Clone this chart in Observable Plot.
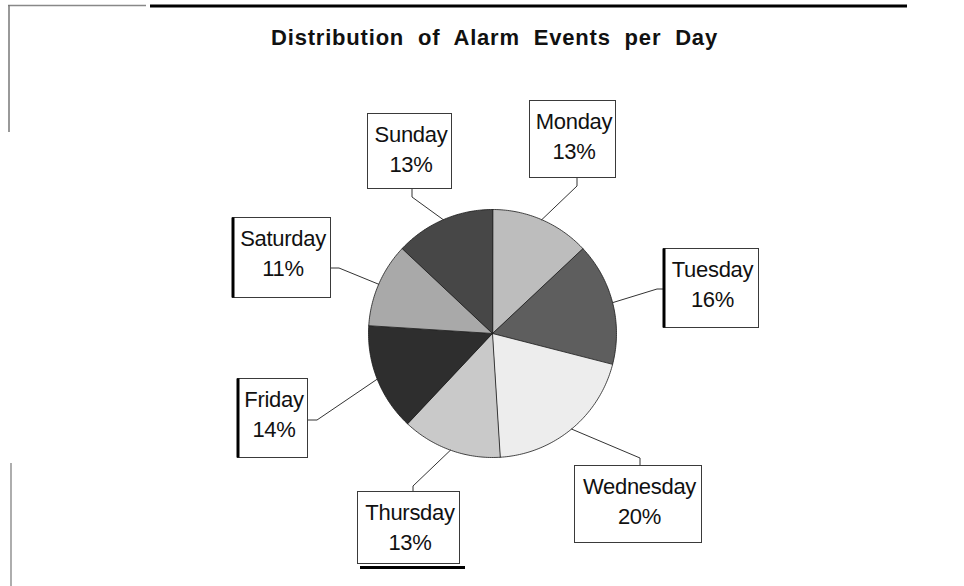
<!DOCTYPE html>
<html>
<head>
<meta charset="utf-8">
<script src="https://cdn.jsdelivr.net/npm/d3@7"></script>
<script src="https://cdn.jsdelivr.net/npm/@observablehq/plot@0.6"></script>
<style>
  html, body { margin: 0; padding: 0; background: #fff; }
</style>
</head>
<body>
<div id="chart"></div>
<script>
// ---- data ----
const title = "Distribution of Alarm Events per Day";
const days = ["Monday", "Tuesday", "Wednesday", "Thursday", "Friday", "Saturday", "Sunday"];
const shares = [13, 16, 20, 13, 14, 11, 13];

// ---- styles ----
const sliceFills = ["#bdbdbd", "#5e5e5e", "#ededed", "#c9c9c9", "#2e2e2e", "#a9a9a9", "#474747"];

// ---- layout (pixel space) ----
const pieCenter = [492, 333];
const pieRadius = 124;
// label boxes: x1, x2, y1, y2; anchor point on box and elbow point of the leader
const boxX1 = [529.5, 663.5, 574.5, 357.5, 237.5, 232.5, 367.5];
const boxX2 = [615.5, 758.5, 701.5, 459.5, 307.5, 330.5, 451.5];
const boxY1 = [100.5, 248.5, 465.5, 491.5, 378.5, 217.5, 113.5];
const boxY2 = [177.5, 327.5, 542.5, 563.5, 457.5, 297.5, 188.5];
const anchorX = [576.5, 663.5, 639.5, 412.5, 307.5, 330.5, 411.5];
const anchorY = [177.5, 288.5, 465.5, 491.5, 419.5, 267.5, 188.5];
const elbowX = [576.5, 656.5, 639.5, 412.5, 316.5, 338.5, 411.5];
const elbowY = [185.5, 288.5, 457.5, 485.5, 419.5, 267.5, 196.5];

// ---- build derived tables ----
const total = d3.sum(shares);
const toRad = Math.PI / 180;
const slices = [];
const leaders = [];
const labels = [];
let start = 0;
days.forEach((day, i) => {
  const sweep = shares[i] / total * 360;
  const end = start + sweep;
  const pts = [{day, x: pieCenter[0], y: pieCenter[1], fill: sliceFills[i]}];
  const n = Math.max(2, Math.ceil(sweep));
  for (let k = 0; k <= n; k++) {
    const a = (start + sweep * k / n) * toRad;
    pts.push({day, x: pieCenter[0] + pieRadius * Math.sin(a), y: pieCenter[1] - pieRadius * Math.cos(a), fill: sliceFills[i]});
  }
  slices.push(...pts);
  const mid = (start + sweep / 2) * toRad;
  leaders.push(
    {day, x: pieCenter[0] + pieRadius * Math.sin(mid), y: pieCenter[1] - pieRadius * Math.cos(mid)},
    {day, x: elbowX[i], y: elbowY[i]},
    {day, x: anchorX[i], y: anchorY[i]}
  );
  labels.push({
    day, pct: shares[i] + "%",
    x1: boxX1[i], x2: boxX2[i], y1: boxY1[i], y2: boxY2[i],
    cx: (boxX1[i] + boxX2[i]) / 2 + 1
  });
  start = end;
});

// scan artefacts of the original page (thick box edges and page frame)
const thickLeft = labels.filter(d => ["Saturday", "Tuesday", "Friday"].includes(d.day));
const thickUnder = [{x1: 360, x2: 465, y: 567}];

const chart = Plot.plot({
  width: 964,
  height: 586,
  margin: 0,
  x: {domain: [0, 964], range: [0, 964], axis: null},
  y: {domain: [0, 586], range: [0, 586], axis: null},
  color: {type: "identity"},
  style: {fontFamily: "'Liberation Sans', Arial, sans-serif", background: "#fff", color: "#111"},
  marks: [
    // page frame
    Plot.ruleY([5], {x1: 8, x2: 146, stroke: "#888", strokeWidth: 1.5}),
    Plot.ruleY([5.5], {x1: 150, x2: 907, stroke: "#000", strokeWidth: 3}),
    Plot.ruleX([8.5], {y1: 5, y2: 132, stroke: "#777", strokeWidth: 1.5}),
    Plot.ruleX([10.5], {y1: 463, y2: 586, stroke: "#777", strokeWidth: 1.2}),
    // title
    Plot.text([title], {
      x: 494, y: 44, text: d => d, fontSize: 22, fontWeight: "bold",
      textAnchor: "middle", lineAnchor: "bottom", fill: "#111",
      className: "chart-title"
    }),
    // pie slices
    Plot.line(slices, {x: "x", y: "y", z: "day", fill: "fill", stroke: "#1a1a1a", strokeWidth: 0.8, curve: "linear-closed"}),
    // leader lines
    Plot.line(leaders, {x: "x", y: "y", z: "day", stroke: "#333", strokeWidth: 1}),
    // label boxes
    Plot.rect(labels, {x1: "x1", x2: "x2", y1: "y1", y2: "y2", fill: "#fff", stroke: "#3a3a3a", strokeWidth: 1}),
    Plot.ruleX(thickLeft, {x: "x1", y1: "y1", y2: "y2", stroke: "#000", strokeWidth: 3}),
    Plot.ruleY(thickUnder, {x1: "x1", x2: "x2", y: "y", stroke: "#000", strokeWidth: 3}),
    // label text
    Plot.text(labels, {x: "cx", y: d => d.y1 + 27.5, text: "day", fontSize: 22, textAnchor: "middle", lineAnchor: "bottom", fill: "#111", className: "lbl"}),
    Plot.text(labels, {x: "cx", y: d => d.y1 + 57.5, text: "pct", fontSize: 22, textAnchor: "middle", lineAnchor: "bottom", fill: "#111", className: "lbl"})
  ]
});
d3.select(chart).selectAll(".chart-title text")
  .style("letter-spacing", "0.8px")
  .style("word-spacing", "7px");
d3.select(chart).selectAll(".lbl text")
  .style("letter-spacing", "-0.3px");
document.getElementById("chart").appendChild(chart);
</script>
</body>
</html>
